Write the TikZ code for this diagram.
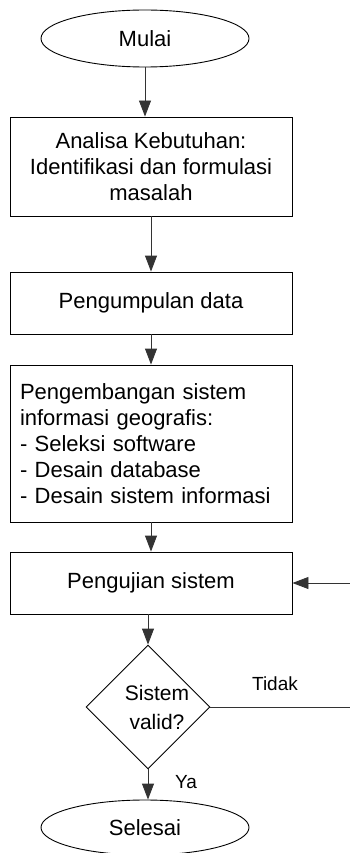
\documentclass[tikz,border=0pt]{standalone}
\usepackage{fontspec}
\setmainfont{Liberation Sans}
\usetikzlibrary{shapes.geometric,arrows.meta}

\begin{document}
\begin{tikzpicture}[x=1pt,y=-1pt,
  every node/.style={font=\fontsize{22}{26}\selectfont},
  terminal/.style={draw=black,line width=0.9pt,ellipse,minimum width=208pt,minimum height=57pt,inner sep=0pt},
  stepbox/.style={draw=black,line width=0.9pt,rectangle,minimum width=282pt,inner sep=0pt,align=center},
  decision/.style={draw=black,line width=0.9pt,diamond,minimum width=124pt,minimum height=124pt,inner sep=0pt},
  flow/.style={draw=black!80,line width=0.9pt,-{Triangle[length=16pt,width=12pt]}},
  plainline/.style={draw=black!80,line width=0.9pt},
  edgelabel/.style={font=\fontsize{19}{22}\selectfont}
]
\useasboundingbox (0,0) rectangle (350,853);

% start / end terminals
\node[terminal] (mulai) at (145,38.5) {Mulai};
\node[terminal,minimum height=55pt] (selesai) at (145,827.5) {Selesai};

% process steps
\node[stepbox,minimum height=99pt] (analisa) at (151,166.5)
  {Analisa Kebutuhan:\\Identifikasi dan formulasi\\masalah};
\node[stepbox,minimum height=62pt] (kumpul) at (151,303) {Pengumpulan data};
\node[stepbox,minimum height=157pt,align=left,text width=262pt,inner xsep=10pt] (kembang) at (151,443.5)
  {Pengembangan sistem\\informasi geografis:\\- Seleksi software\\- Desain database\\- Desain sistem informasi};
\node[stepbox,minimum height=62pt] (uji) at (151,583) {Pengujian sistem};

% validity check
\node[decision] (valid) at (148,707) {};
\node[align=center,font=\fontsize{21}{29}\selectfont] (validtext) at (157,707.5) {Sistem\\valid?};

% loop-back ends at the right edge
\coordinate (tidakend) at (350,707);
\coordinate (kembali) at (350,583);

% connectors
\draw[flow] (mulai.south) -- (mulai.south |- analisa.north);
\draw[flow] (analisa.south) -- (kumpul.north);
\draw[flow] (kumpul.south) -- (kembang.north);
\draw[flow] (kembang.south) -- (uji.north);
\draw[flow] (valid.north |- uji.south) -- (valid.north);
\draw[flow] (valid.south) -- (valid.south |- selesai.north);
\draw[plainline] (valid.east) -- (tidakend);
\draw[flow] (kembali) -- (uji.east);

% branch labels
\node[edgelabel] (tidak) at (275,684) {Tidak};
\node[edgelabel] (ya) at (186,782) {Ya};
\end{tikzpicture}
\end{document}
